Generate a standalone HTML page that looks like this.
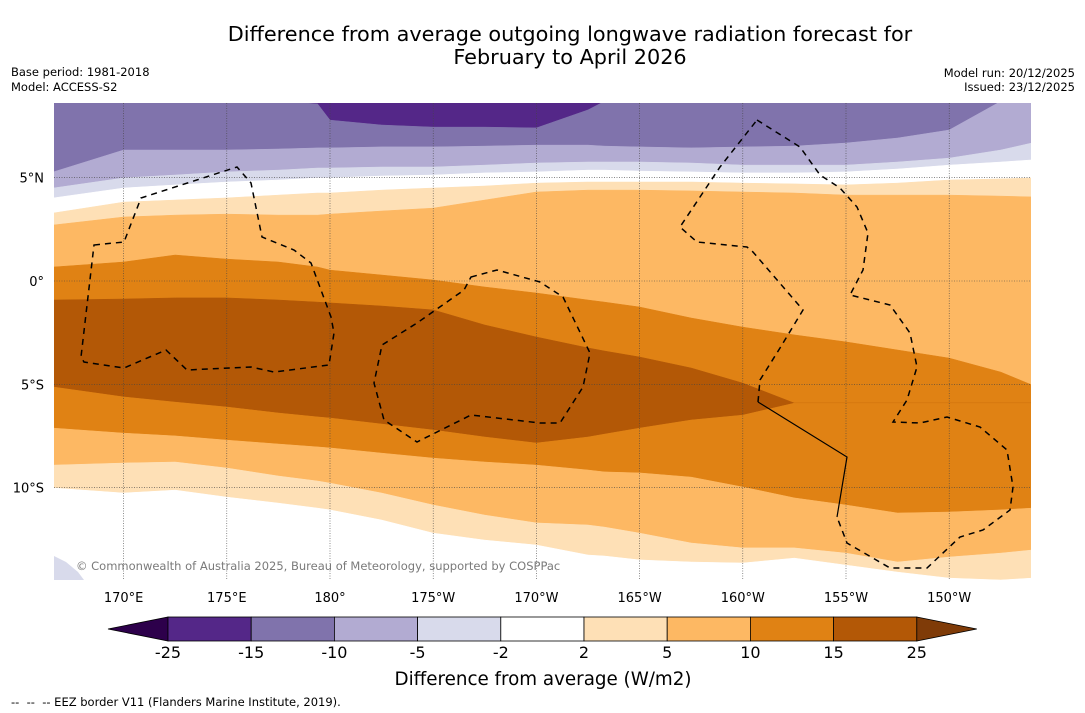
<!DOCTYPE html>
<html><head><meta charset="utf-8">
<style>
html,body{margin:0;padding:0;background:#fff;}
svg{display:block;font-family:"DejaVu Sans","Liberation Sans",sans-serif;}
</style></head>
<body>
<svg id="fig" width="1085" height="713" viewBox="0 0 1085 713" xmlns="http://www.w3.org/2000/svg">
  <rect x="0" y="0" width="1085" height="713" fill="#fff"/>
  <text x="570" y="41" font-size="20.8" text-anchor="middle" fill="#000">Difference from average outgoing longwave radiation forecast for</text>
  <text x="570" y="64" font-size="20.8" text-anchor="middle" fill="#000">February to April 2026</text>
  <text x="11" y="76" font-size="11.5">Base period: 1981-2018</text>
  <text x="11" y="91" font-size="11.5">Model: ACCESS-S2</text>
  <text x="1075" y="77" font-size="11.5" text-anchor="end">Model run: 20/12/2025</text>
  <text x="1075" y="91" font-size="11.5" text-anchor="end">Issued: 23/12/2025</text>
  <defs><clipPath id="plotclip"><rect x="54" y="103" width="977" height="477"/></clipPath></defs>
  <g id="bands" clip-path="url(#plotclip)"></g>
  <g id="grid"></g>
  <g id="eez" clip-path="url(#plotclip)" fill="none" stroke="#000" stroke-width="1.5" stroke-dasharray="6,5">
    <path d="M94,245 L124,242 L141,198 L237,167 L251,183 L262,237 L294,250 L311,263 L331,317 L334,333 L329,365 L274,372 L251,367 L187,370 L166,350 L124,368 L84,362 L81,357 Z"/>
    <path d="M471,277 L497,270 L540,282 L563,297 L590,353 L583,387 L560,423 L540,423 L471,415 L417,442 L384,420 L374,383 L382,345 L417,323 L464,290 Z"/>
    <path d="M757,120 L800,147 L820,175 L840,188 L857,207 L868,233 L863,270 L850,295 L890,305 L910,333 L917,367 L907,400 L893,422 L920,423 L947,417 L980,427 L1007,450 L1013,487 L1010,510 L983,530 L960,537 L927,568 L890,568 L847,543 L837,517"/>
    <path d="M758,402 L760,380 L780,348 L803,310 L753,252 L747,247 L697,242 L680,227 L720,167 L757,120"/>
    <path stroke-dasharray="none" stroke-width="1.2" d="M758,402 L847,457 L837,517"/>
  </g>
  <text x="76" y="570" font-size="11.5" fill="#7a7a7a">© Commonwealth of Australia 2025, Bureau of Meteorology, supported by COSPPac</text>
  <g id="yticks"></g>
  <g id="xticks"></g>
  <g id="colorbar"></g>
  <text x="543" y="685" font-size="18.3" text-anchor="middle">Difference from average (W/m2)</text>
  <text x="11" y="706" font-size="11.5">-- &#160;-- &#160;-- EEZ border V11 (Flanders Marine Institute, 2019).</text>
</svg>
<script>
// Longitudes (degrees east) of contour samples
const lons = [166.6,170,172.5,175,177.5,179.4,180,182.5,185,187.5,190,192.5,193.3,195,197.5,200,202.5,205,207.5,210,212.5,214];
// Contour boundary latitudes (top to bottom)
const b0 = [8.7,8.7,8.7,8.7,8.7,8.57,7.79,7.55,7.45,7.45,7.41,8.28,8.7,8.7,8.7,8.7,8.7,8.7,8.7,8.7,8.7,8.7];
const b1 = [5.28,6.34,6.34,6.34,6.39,6.44,6.44,6.49,6.49,6.53,6.58,6.58,6.53,6.49,6.44,6.49,6.53,6.68,6.92,7.31,8.7,8.7];
const b2 = [4.50,4.99,5.13,5.28,5.37,5.47,5.47,5.52,5.52,5.61,5.71,5.76,5.76,5.76,5.71,5.61,5.61,5.61,5.76,5.95,6.34,6.68];
const b3 = [4.02,4.50,4.65,4.79,4.89,4.99,4.99,5.08,5.13,5.23,5.28,5.37,5.37,5.32,5.28,5.23,5.23,5.28,5.42,5.61,5.76,5.86];
const b4 = [3.29,3.82,3.92,4.02,4.16,4.26,4.26,4.40,4.50,4.60,4.74,4.79,4.79,4.79,4.79,4.74,4.70,4.65,4.74,4.89,4.94,4.99];
const b5 = [2.71,3.10,3.19,3.24,3.19,3.19,3.24,3.39,3.53,3.92,4.31,4.40,4.40,4.40,4.36,4.31,4.26,4.16,4.16,4.16,4.11,4.07];
const b6 = [0.68,0.92,1.26,1.06,0.92,0.68,0.53,0.29,0.05,-0.29,-0.58,-0.92,-1.02,-1.26,-1.79,-2.23,-2.61,-2.95,-3.34,-3.73,-4.41,-5.03];
const b7 = [-0.92,-0.87,-0.82,-0.82,-0.92,-1.02,-1.06,-1.21,-1.40,-2.13,-2.71,-3.24,-3.39,-3.68,-4.21,-4.94,-5.91,-5.91,-5.91,-5.91,-5.91,-5.91];
const b8 = [-5.13,-5.61,-5.86,-6.10,-6.39,-6.58,-6.63,-6.92,-7.21,-7.55,-7.84,-7.55,-7.41,-7.12,-6.73,-6.49,-5.91,-5.91,-5.91,-5.91,-5.91,-5.91];
const b9 = [-7.12,-7.36,-7.50,-7.70,-7.89,-8.03,-8.08,-8.33,-8.57,-8.76,-8.91,-9.15,-9.24,-9.29,-9.49,-9.97,-10.50,-10.84,-11.23,-11.18,-11.08,-10.99];
const b10 = [-8.91,-8.81,-8.76,-9.05,-9.44,-9.68,-9.78,-10.26,-10.84,-11.33,-11.71,-11.81,-11.91,-12.20,-12.68,-12.92,-12.92,-13.17,-13.60,-13.36,-13.17,-13.02];
const b11 = [-10.02,-10.26,-10.12,-10.46,-10.75,-10.99,-11.08,-11.57,-12.20,-12.54,-12.78,-13.26,-13.31,-13.50,-13.60,-13.65,-13.41,-13.75,-14.09,-14.38,-14.47,-14.38];
const bandColors = ["#542788","#8073ac","#b2abd2","#d8daeb","#ffffff","#fee0b6","#fdb863","#e08214","#b35806","#e08214","#fdb863","#fee0b6","#ffffff"];
// Axis ticks
const lonTicks = [170,175,180,185,190,195,200,205,210];
const lonTickLabels = ["170°E","175°E","180°","175°W","170°W","165°W","160°W","155°W","150°W"];
const latTicks = [5,0,-5,-10];
const latTickLabels = ["5°N","0°","5°S","10°S"];
// Colorbar
const cbLevels = ["-25","-15","-10","-5","-2","2","5","10","15","25"];
const cbColors = ["#542788","#8073ac","#b2abd2","#d8daeb","#ffffff","#fee0b6","#fdb863","#e08214","#b35806"];
const cbUnder = "#2d004b", cbOver = "#7f3b08";

const NS = "http://www.w3.org/2000/svg";
const xOf = lon => 330 + (lon - 180) * 20.64;
const yOf = lat => 281 - lat * 20.66;
function mk(tag, attrs, parent){const e=document.createElementNS(NS,tag);for(const k in attrs)e.setAttribute(k,attrs[k]);parent.appendChild(e);return e;}

const bounds = [null,b0,b1,b2,b3,b4,b5,b6,b7,b8,b9,b10,b11,null];
const bandsG = document.getElementById("bands");
for (let i = 0; i < bandColors.length; i++) {
  const top = bounds[i], bot = bounds[i+1];
  const up = top ? lons.map((l,j)=>[xOf(l), yOf(top[j])]) : lons.map(l=>[xOf(l), 90]);
  const dn = bot ? lons.map((l,j)=>[xOf(l), yOf(bot[j])]) : lons.map(l=>[xOf(l), 600]);
  const pts = up.concat(dn.slice().reverse()).map(p=>p[0].toFixed(1)+","+p[1].toFixed(1)).join(" ");
  const p = mk("polygon",{points:pts,fill:bandColors[i],stroke:bandColors[i],"stroke-width":"0.5"},bandsG);
  
  
}
// small lavender patch bottom-left
const patch = mk("polygon",{points:"54,556 66,562 78,572 84,580 54,580",fill:"#d8daeb"},bandsG);



const gridG = document.getElementById("grid");
lonTicks.forEach((l,i)=>{
  const ln = mk("line",{x1:xOf(l),x2:xOf(l),y1:103,y2:580,stroke:"#444","stroke-width":"0.6","stroke-dasharray":"1,1.5"},gridG);
  
  
  const t = mk("text",{x:xOf(l),y:602,"font-size":"13","text-anchor":"middle"},document.getElementById("xticks"));
  t.textContent = lonTickLabels[i];
  
  
});
latTicks.forEach((l,i)=>{
  const ln = mk("line",{x1:54,x2:1031,y1:yOf(l),y2:yOf(l),stroke:"#444","stroke-width":"0.6","stroke-dasharray":"1,1.5"},gridG);
  
  
  const t = mk("text",{x:44,y:yOf(l)+5,"font-size":"13","text-anchor":"end"},document.getElementById("yticks"));
  t.textContent = latTickLabels[i];
  
  
});

const cb = document.getElementById("colorbar");
const cbX0 = 168, cbW = 83.2, cbY = 617, cbH = 24;
const under = mk("polygon",{points:`108,${cbY+cbH/2} ${cbX0},${cbY} ${cbX0},${cbY+cbH}`,fill:cbUnder,stroke:"#000","stroke-width":"0.8"},cb);


cbColors.forEach((c,i)=>{
  const r = mk("rect",{x:cbX0+i*cbW,y:cbY,width:cbW,height:cbH,fill:c,stroke:"#000","stroke-width":"0.8"},cb);
  
  
});
const xEnd = cbX0 + cbColors.length*cbW;
const over = mk("polygon",{points:`${xEnd},${cbY} ${xEnd+60},${cbY+cbH/2} ${xEnd},${cbY+cbH}`,fill:cbOver,stroke:"#000","stroke-width":"0.8"},cb);


cbLevels.forEach((s,i)=>{
  const t = mk("text",{x:cbX0+i*cbW,y:658,"font-size":"16","text-anchor":"middle"},cb);
  t.textContent = s;
  
  
});
</script>
</body></html>
